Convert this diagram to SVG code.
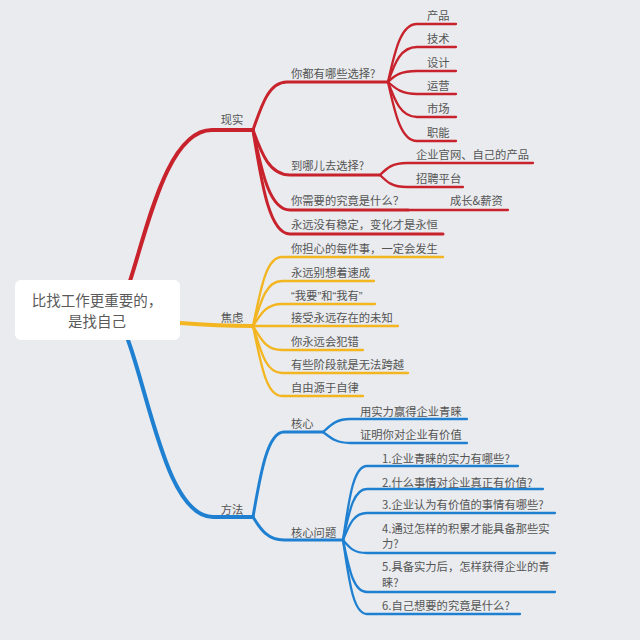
<svg xmlns="http://www.w3.org/2000/svg" width="640" height="640" viewBox="0 0 640 640">
<style>
text{font-family:"Noto Sans CJK SC","Noto Sans",sans-serif;font-size:11.3px;fill:#555}
.c{text-anchor:middle}
.q{font-family:"Liberation Sans",sans-serif}
.root{font-size:14.5px;fill:#5a5a5a}
path{fill:none;stroke-linecap:round}
.r{stroke:#c8222c}.y{stroke:#f3b520}.b{stroke:#1f80d2}
.w4{stroke-width:4}.w3{stroke-width:3}.w2{stroke-width:2.3}
</style>
<rect width="640" height="640" fill="#e9ebee"/>
<g id="connectors">
<!-- red -->
<path class="r w4" d="M130,281 C148,225 168,130 212,130 H253"/>
<path class="r w3" d="M253,130 C262,104 269,82 287,82 H388"/>
<path class="r w3" d="M253,130 C262,155 270,175 290,175 H380"/>
<path class="r w3" d="M253,130 C262,174 270,210 290,210 H408"/>
<path class="r w3" d="M253,130 C262,187 270,234 290,234 H443"/>
<path class="r w2" d="M388,82 C395,50 401,24 417,24 H456"/>
<path class="r w2" d="M388,82 C395,62 401,47 417,47 H456"/>
<path class="r w2" d="M388,82 C395,75 401,71 417,71 H456"/>
<path class="r w2" d="M388,82 C395,88 401,94 417,94 H456"/>
<path class="r w2" d="M388,82 C395,101 401,117 417,117 H456"/>
<path class="r w2" d="M388,82 C395,114 401,141 417,141 H456"/>
<path class="r w2" d="M380,175 C387,168 392,163 407,163 H533"/>
<path class="r w2" d="M380,175 C387,182 392,187 407,187 H463"/>
<path class="r w2" d="M408,210 H508"/>
<!-- yellow -->
<path class="y w4" d="M180,323 C205,325 220,326 253,326"/>
<path class="y w2" d="M253,326 C261,288 266,257 282,257 H443"/>
<path class="y w2" d="M253,326 C261,301 266,281 282,281 H374"/>
<path class="y w2" d="M253,326 C261,314 266,304 282,304 H375"/>
<path class="y w2" d="M253,326 H398"/>
<path class="y w2" d="M253,326 C261,339 266,350 282,350 H363"/>
<path class="y w2" d="M253,326 C261,352 266,373 282,373 H408"/>
<path class="y w2" d="M253,326 C261,364 266,396 282,396 H363"/>
<!-- blue -->
<path class="b w4" d="M128,340 C150,400 168,517 213,517 H253"/>
<path class="b w3" d="M253,517 C261,470 268,432 284,432 H323"/>
<path class="b w3" d="M253,517 C261,530 268,540 284,540 H343"/>
<path class="b w2" d="M323,432 C331,425 336,419 350,419 H467"/>
<path class="b w2" d="M323,432 C331,438 336,443 350,443 H467"/>
<path class="b w2" d="M343,540 C349,500 353,466 367,466 H518"/>
<path class="b w2" d="M343,540 C349,513 353,489 367,489 H543"/>
<path class="b w2" d="M343,540 C349,526 353,513 367,513 H555"/>
<path class="b w2" d="M343,540 C349,547 353,553 367,553 H555"/>
<path class="b w2" d="M343,540 C349,568 353,592 367,592 H555"/>
<path class="b w2" d="M343,540 C349,580 353,614 367,614 H520"/>
</g>
<g id="root">
<rect x="15" y="280" width="165" height="60" rx="6" fill="#fff"/>
<text class="root c" x="97" y="306">比找工作更重要的，</text>
<text class="root c" x="97" y="327">是找自己</text>
</g>
<g id="n-xianshi"><text class="c" x="232" y="124">现实</text></g>
<g id="n-choices"><text x="291" y="77.5">你都有哪些选择?</text></g>
<g id="n-chanpin"><text x="427" y="19.5">产品</text></g>
<g id="n-jishu"><text x="427" y="42.5">技术</text></g>
<g id="n-sheji"><text x="427" y="66.5">设计</text></g>
<g id="n-yunying"><text x="427" y="89.5">运营</text></g>
<g id="n-shichang"><text x="427" y="112.5">市场</text></g>
<g id="n-zhineng"><text x="427" y="136.5">职能</text></g>
<g id="n-where"><text x="291" y="170">到哪儿去选择?</text></g>
<g id="n-guanwang"><text x="416" y="159">企业官网、自己的产品</text></g>
<g id="n-zhaopin"><text x="416" y="183">招聘平台</text></g>
<g id="n-need"><text x="291" y="205">你需要的究竟是什么？</text></g>
<g id="n-growth"><text x="450" y="205">成长&amp;薪资</text></g>
<g id="n-change"><text x="291" y="229">永远没有稳定，变化才是永恒</text></g>
<g id="n-jiaolv"><text class="c" x="232" y="322">焦虑</text></g>
<g id="n-y1"><text x="291" y="252.5">你担心的每件事，一定会发生</text></g>
<g id="n-y2"><text x="291" y="276.5">永远别想着速成</text></g>
<g id="n-y3"><text x="291" y="299.5"><tspan class="q">“</tspan>我要<tspan class="q">”</tspan>和<tspan class="q">“</tspan>我有<tspan class="q">”</tspan></text></g>
<g id="n-y4"><text x="291" y="321.5">接受永远存在的未知</text></g>
<g id="n-y5"><text x="291" y="345.5">你永远会犯错</text></g>
<g id="n-y6"><text x="291" y="368.5">有些阶段就是无法跨越</text></g>
<g id="n-y7"><text x="291" y="391.5">自由源于自律</text></g>
<g id="n-fangfa"><text class="c" x="232" y="514">方法</text></g>
<g id="n-hexin"><text x="291" y="428">核心</text></g>
<g id="n-h1"><text x="360" y="416">用实力赢得企业青睐</text></g>
<g id="n-h2"><text x="360" y="439">证明你对企业有价值</text></g>
<g id="n-wenti"><text x="291" y="537">核心问题</text></g>
<g id="n-q1"><text x="382" y="462.5">1.企业青睐的实力有哪些?</text></g>
<g id="n-q2"><text x="382" y="487">2.什么事情对企业真正有价值?</text></g>
<g id="n-q3"><text x="382" y="509">3.企业认为有价值的事情有哪些?</text></g>
<g id="n-q4"><text x="382" y="533">4.通过怎样的积累才能具备那些实</text><text x="382" y="548">力?</text></g>
<g id="n-q5"><text x="382" y="571">5.具备实力后，怎样获得企业的青</text><text x="382" y="586.5">睐?</text></g>
<g id="n-q6"><text x="382" y="610">6.自己想要的究竟是什么?</text></g>
</svg>
